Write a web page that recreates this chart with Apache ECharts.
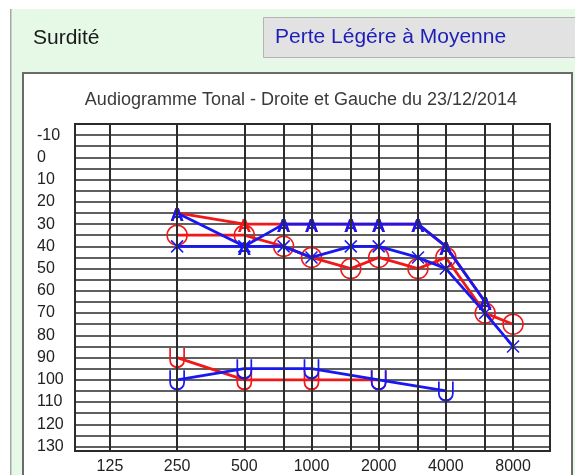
<!DOCTYPE html>
<html><head><meta charset="utf-8">
<script src="https://cdn.jsdelivr.net/npm/echarts@6/dist/echarts.min.js"></script>
<style>html,body{margin:0;padding:0;background:#fff}#c{width:575px;height:475px}</style>
</head><body><div id="c"></div>
<script>
// ---- data ----
const headerLabel = 'Surdité';
const headerValue = 'Perte Légére à Moyenne';
const chartTitle = 'Audiogramme Tonal - Droite et Gauche du 23/12/2014';
const xTickFreqs = [125, 250, 500, 1000, 2000, 4000, 8000];
const xTickLabels = ['125', '250', '500', '1000', '2000', '4000', '8000'];
const gridFreqs = [125, 250, 500, 750, 1000, 1500, 2000, 3000, 4000, 6000, 8000];
const airFreqs = [250, 500, 750, 1000, 1500, 2000, 3000, 4000, 6000, 8000];
const rightAirO = [35, 35, 40, 45, 50, 45, 50, 45, 70, 75];
const leftAirX = [40, 40, 40, 45, 40, 40, 45, 50, 70, 85];
const aFreqs = [250, 500, 750, 1000, 1500, 2000, 3000, 4000, 6000];
const rightA = [25, 30, 30, 30, 30, 30, 30, 40, 65];
const leftA = [25, 40, 30, 30, 30, 30, 30, 40, 65];
const rightUFreqs = [250, 500, 1000, 2000];
const rightU = [90, 100, 100, 100];
const leftUFreqs = [250, 500, 1000, 2000, 4000];
const leftU = [100, 95, 95, 100, 105];

const RED = '#f01818', BLUE = '#1818f0', GRIDC = '#2b2b2b';
const FONT = "'Liberation Sans', Arial, sans-serif";
const pos = f => Math.log2(f / 125);
const pairs = (fs, vs) => fs.map((f, i) => [pos(f), vs[i]]);

function textSeries(name, fs, vs, color, ch, z) {
  return {
    name, type: 'line', z, data: pairs(fs, vs),
    symbol: 'circle', symbolSize: 1,
    itemStyle: { color: 'rgba(0,0,0,0)' },
    lineStyle: { color, width: 2.8 },
    label: { show: true, position: [0, 0], offset: [0.5, 3.5], align: 'center', verticalAlign: 'middle',
             formatter: ch, color, fontSize: 19, fontWeight: 'bold', fontFamily: FONT },
    animation: false
  };
}
function uSeries(name, fs, vs, color, z) {
  return {
    name, type: 'line', z, data: pairs(fs, vs),
    symbol: 'path://M0,0L0,12C0,21 14,21 14,12L14,0', symbolSize: [14, 19], symbolKeepAspect: false,
    itemStyle: { color: 'rgba(0,0,0,0)', borderColor: color, borderWidth: 2 },
    lineStyle: { color, width: 2.8 }, animation: false
  };
}

const chart = echarts.init(document.getElementById('c'));
chart.setOption({
  animation: false,
  graphic: [
    { type: 'rect', z: -20, shape: { x: 11, y: 9, width: 570, height: 470 },
      style: { fill: '#e6f9e6' } },
    { type: 'rect', z: -19, shape: { x: 10, y: 9, width: 1.5, height: 470 },
      style: { fill: '#a8a8a8' } },
    { type: 'rect', z: -19, shape: { x: 263.5, y: 17.5, width: 320, height: 40 },
      style: { fill: '#e2e2e2', stroke: '#b4b4b4', lineWidth: 1 } },
    { type: 'rect', z: -19, shape: { x: 263.5, y: 59.5, width: 320, height: 1 },
      style: { fill: '#f4f4f4' } },
    { type: 'rect', z: -19, shape: { x: 23, y: 73, width: 549, height: 420 },
      style: { fill: '#ffffff', stroke: '#6a6a6a', lineWidth: 2 } },
    { type: 'text', z: -10, x: 33, y: 38,
      style: { text: headerLabel, fill: '#1a1a1a', font: '21px ' + FONT,
               textAlign: 'left', align: 'left', textVerticalAlign: 'middle', verticalAlign: 'middle' } },
    { type: 'text', z: -10, x: 275, y: 37,
      style: { text: headerValue, fill: '#1e1eb8', font: '21px ' + FONT,
               textAlign: 'left', align: 'left', textVerticalAlign: 'middle', verticalAlign: 'middle' } },
    { type: 'text', z: -10, x: 301, y: 100,
      style: { text: chartTitle, fill: '#3a3a3a', font: '18px ' + FONT,
               textAlign: 'center', align: 'center', textVerticalAlign: 'middle', verticalAlign: 'middle' } }
  ],
  grid: { left: 75, top: 124, width: 475, height: 329, show: true,
          borderColor: GRIDC, borderWidth: 2, backgroundColor: 'rgba(0,0,0,0)' },
  xAxis: {
    type: 'value', min: -0.52, max: 6.55,
    axisLine: { show: false }, axisTick: { show: false }, splitLine: { show: false },
    axisLabel: {
      customValues: xTickFreqs.map(pos),
      formatter: v => { const i = xTickFreqs.findIndex(f => Math.abs(pos(f) - v) < 1e-6); return i >= 0 ? xTickLabels[i] : ''; },
      color: '#222', fontSize: 16, fontFamily: FONT, margin: 8
    }
  },
  yAxis: {
    type: 'value', inverse: true, min: -15, max: 132, interval: 5,
    axisLine: { show: false }, axisTick: { show: false },
    splitLine: { show: true, lineStyle: { color: GRIDC, width: 1.5 } },
    axisLabel: {
      formatter: v => (v % 10 === 0 && v >= -10 && v <= 130) ? String(v) : '',
      align: 'left', margin: 38, padding: [6, 0, 0, 0],
      color: '#222', fontSize: 16, fontFamily: FONT
    }
  },
  series: [
    { type: 'line', z: 1, data: [], silent: true,
      markLine: { silent: true, symbol: ['none', 'none'], label: { show: false },
                  lineStyle: { color: GRIDC, width: 2, type: 'solid' }, animation: false,
                  data: gridFreqs.map(f => ({ xAxis: pos(f) })) } },
    textSeries('Droite A', aFreqs, rightA, RED, 'A', 3),
    { name: 'Droite O', type: 'line', z: 3, data: pairs(airFreqs, rightAirO),
      symbol: 'circle', symbolSize: 20,
      itemStyle: { color: 'rgba(0,0,0,0)', borderColor: RED, borderWidth: 1.5 },
      lineStyle: { color: RED, width: 2.8 } },
    uSeries('Droite U', rightUFreqs, rightU, RED, 3),
    { name: 'Gauche X', type: 'line', z: 4, data: pairs(airFreqs, leftAirX),
      symbol: 'path://M0,0L10,10M10,0L0,10', symbolSize: 12,
      itemStyle: { color: 'rgba(0,0,0,0)', borderColor: BLUE, borderWidth: 1.5 },
      lineStyle: { color: BLUE, width: 2.8 } },
    textSeries('Gauche A', aFreqs, leftA, BLUE, 'A', 4),
    uSeries('Gauche U', leftUFreqs, leftU, BLUE, 4)
  ]
});
</script></body></html>
